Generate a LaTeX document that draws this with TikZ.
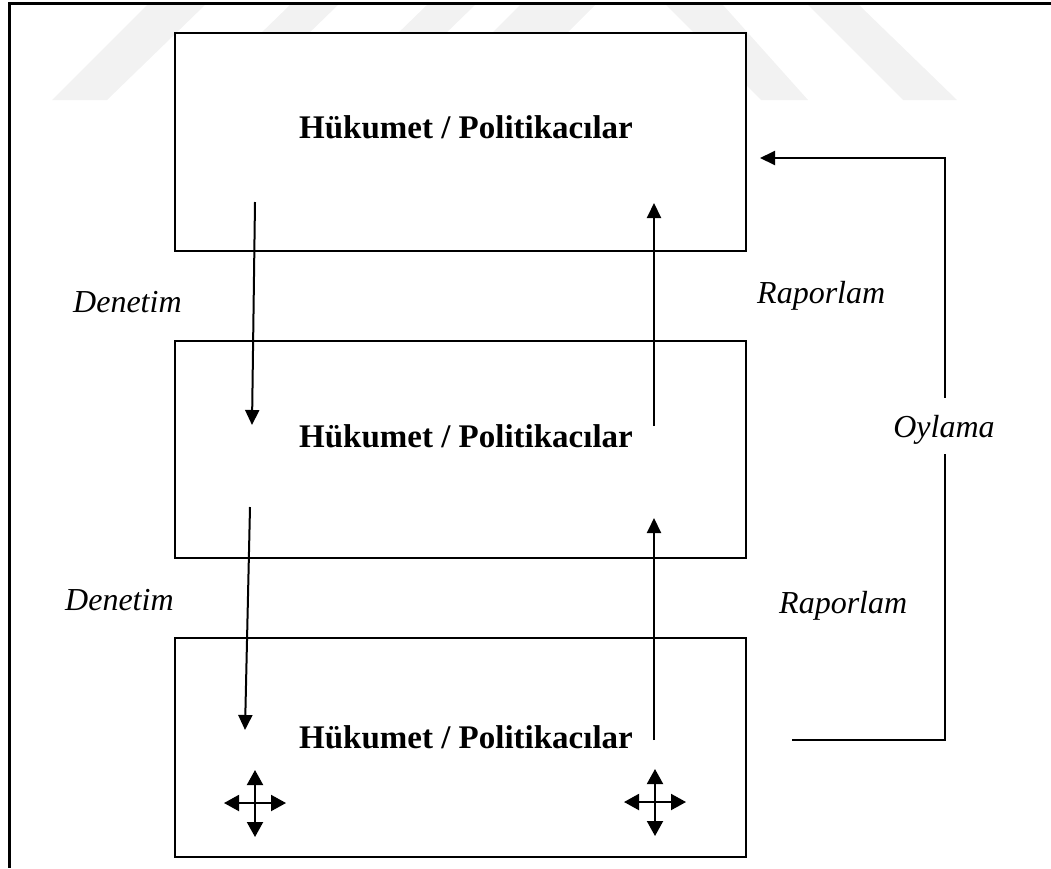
\documentclass[tikz,border=0pt]{standalone}
\usepackage{fontspec}
\setmainfont{Liberation Serif}
\usetikzlibrary{arrows.meta}

\begin{document}
\begin{tikzpicture}[x=1pt,y=-1pt,
  panel/.style={draw=black, line width=2pt, fill=white, minimum width=571pt, inner sep=0pt},
  title/.style={font=\fontsize{33}{39}\selectfont\bfseries, anchor=base, inner sep=0pt},
  lbl/.style={font=\fontsize{32}{38}\selectfont\itshape, anchor=base west, inner sep=0pt},
  flow/.style={line width=2pt, -{Triangle[length=15pt,width=14pt]}},
  move/.style={line width=2pt, {Triangle[length=15pt,width=16pt]}-{Triangle[length=15pt,width=16pt]}},
  wm/.style={fill=black!5, draw=none}
]
\path[use as bounding box] (0,0) rectangle (1051,868);

% faint background emblem
\fill[wm] (147,5) -- (205,5) -- (107,100) -- (52,100) -- cycle;
\fill[wm] (290,5) -- (338,5) -- (240,100) -- (192,100) -- cycle;
\fill[wm] (427,5) -- (475,5) -- (377,100) -- (329,100) -- cycle;
\fill[wm] (520,5) -- (595,5) -- (500,100) -- (425,100) -- cycle;
\fill[wm] (666,5) -- (723,5) -- (808,100) -- (761,100) -- cycle;
\fill[wm] (808,5) -- (859,5) -- (957,100) -- (903,100) -- cycle;

% outer frame
\draw[line width=3pt] (1051,3) -- (9,3) -- (9,868);

% the three panels
\node[panel, minimum height=218pt] (p1) at (460.5,142) {};
\node[panel, minimum height=217pt] (p2) at (460.5,449.5) {};
\node[panel, minimum height=219pt] (p3) at (460.5,747.5) {};

\node[title] (t1) at (466,138) {Hükumet / Politikacılar};
\node[title] (t2) at (466,447) {Hükumet / Politikacılar};
\node[title] (t3) at (466,748) {Hükumet / Politikacılar};

% downward control arrows
\coordinate (d1a) at (255,202);
\coordinate (d1b) at (252,425);
\coordinate (d2a) at (250,507);
\coordinate (d2b) at (245,730);
\draw[flow] (d1a) -- (d1b);
\draw[flow] (d2a) -- (d2b);

% upward reporting arrows
\coordinate (r1a) at (654,426);
\coordinate (r1b) at (654,203);
\coordinate (r2a) at (654,740);
\coordinate (r2b) at (654,518);
\draw[flow] (r1a) -- (r1b);
\draw[flow] (r2a) -- (r2b);

% voting loop
\coordinate (o1) at (792,740);
\coordinate (o3) at (945,158);
\coordinate (o4) at (760,158);
\draw[flow] (o1) -| (o3) -- (o4);

% labels
\node[lbl] (l1) at (73,312) {Denetim};
\node[lbl] (l2) at (65,610) {Denetim};
\node[lbl] (l3) at (757,303) {Raporlam};
\node[lbl] (l4) at (779,613) {Raporlam};
\node[font=\fontsize{32}{38}\selectfont\itshape, fill=white, inner xsep=2pt, inner ysep=0pt,
      minimum height=56pt, text height=26pt, text depth=3pt] (l5) at (944,426) {Oylama};

% four-way movement marks
\coordinate (x1) at (255,803);
\coordinate (x2) at (655,802);
\draw[move] (x1) ++(-31,0) -- ++(62,0);
\draw[move] (x1) ++(0,-33) -- ++(0,67);
\draw[move] (x2) ++(-31,0) -- ++(62,0);
\draw[move] (x2) ++(0,-33) -- ++(0,67);
\end{tikzpicture}
\end{document}
